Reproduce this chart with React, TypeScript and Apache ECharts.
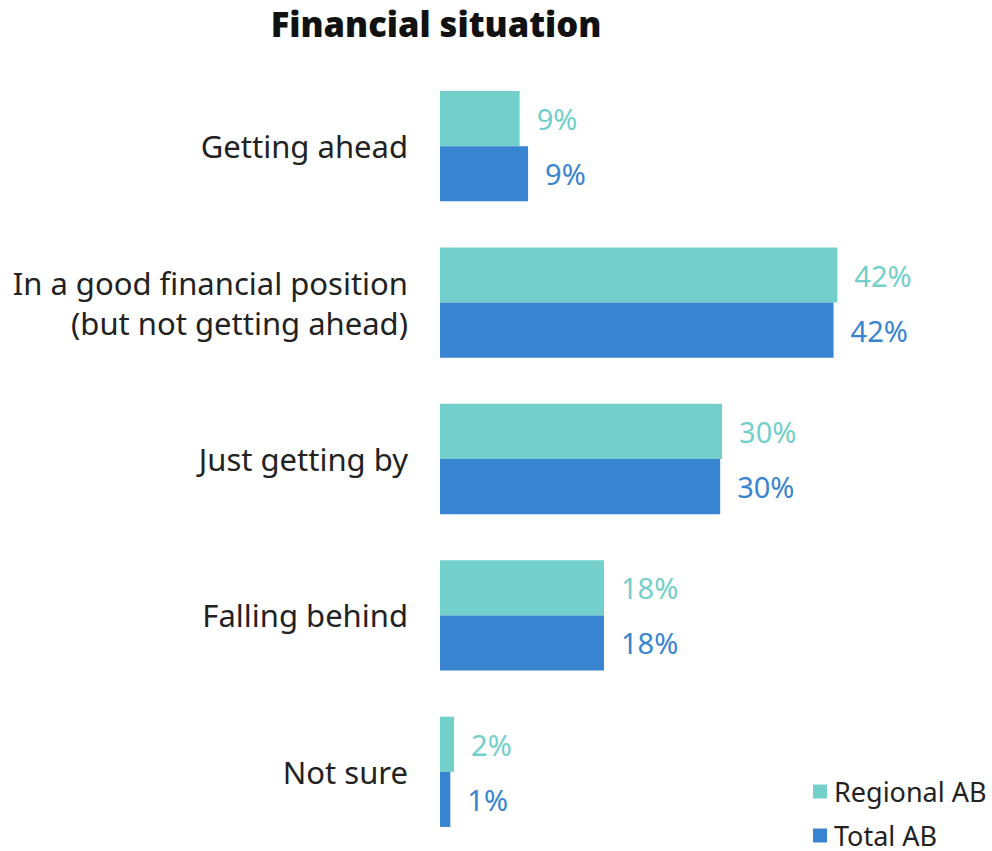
import React, { useEffect, useRef } from "react";
import * as echarts from "echarts";

const categories = [
  "Getting ahead",
  "In a good financial position\n(but not getting ahead)",
  "Just getting by",
  "Falling behind",
  "Not sure",
];
const regionalAB = [8.5, 42.4, 30.1, 17.5, 1.5];
const totalAB = [9.4, 42.0, 29.9, 17.5, 1.1];
const seriesNames = ["Regional AB", "Total AB"];
const colors = ["#72CFCA", "#3884D0"];

const FONT = "'Noto Sans', sans-serif";

export default function App() {
  const ref = useRef<HTMLDivElement>(null);
  useEffect(() => {
    if (!ref.current) return;
    const chart = echarts.init(ref.current, undefined, { renderer: "svg" });
    const fmt = (p: any) => Math.round(p.value) + "%";
    const legendBase = {
      orient: "vertical",
      left: 813,
      itemWidth: 14,
      itemHeight: 14,
      padding: 0,
      icon: "rect",
      textStyle: {
        fontFamily: FONT,
        fontSize: 27,
        lineHeight: 27,
        color: "#222222",
        padding: [0, 0, 0, 2],
      },
    };
    const labelBase = {
      show: true,
      position: "right",
      distance: 17,
      formatter: fmt,
      fontFamily: FONT,
      fontSize: 29,
    };
    chart.setOption({
      animation: false,
      backgroundColor: "#ffffff",
      title: {
        text: "Financial situation",
        left: 431,
        top: 1,
        textAlign: "center",
        textStyle: { fontFamily: FONT, fontSize: 34.5, fontWeight: 900, color: "#111111" },
      },
      legend: [
        { ...legendBase, top: 778, data: [seriesNames[0]] },
        { ...legendBase, top: 822, data: [seriesNames[1]] },
      ],
      grid: { left: 440, top: 68, width: 468.5, height: 782, containLabel: false },
      xAxis: {
        type: "value",
        min: 0,
        max: 50,
        show: false,
      },
      yAxis: {
        type: "category",
        inverse: true,
        data: categories,
        axisLine: { show: false },
        axisTick: { show: false },
        axisLabel: {
          margin: 32,
          fontFamily: FONT,
          fontSize: 31,
          lineHeight: 40,
          color: "#222222",
          align: "right",
        },
      },
      series: [
        {
          name: seriesNames[0],
          type: "bar",
          data: regionalAB,
          barGap: "0%",
          barCategoryGap: "29.5%",
          itemStyle: { color: colors[0] },
          label: { ...labelBase, color: colors[0] },
        },
        {
          name: seriesNames[1],
          type: "bar",
          data: totalAB,
          barGap: "0%",
          barCategoryGap: "29.5%",
          itemStyle: { color: colors[1] },
          label: { ...labelBase, color: colors[1] },
        },
      ],
    });
    return () => chart.dispose();
  }, []);
  return (
    <div
      ref={ref}
      style={{ position: "fixed", left: 0, top: 0, width: 992, height: 851 }}
    />
  );
}
